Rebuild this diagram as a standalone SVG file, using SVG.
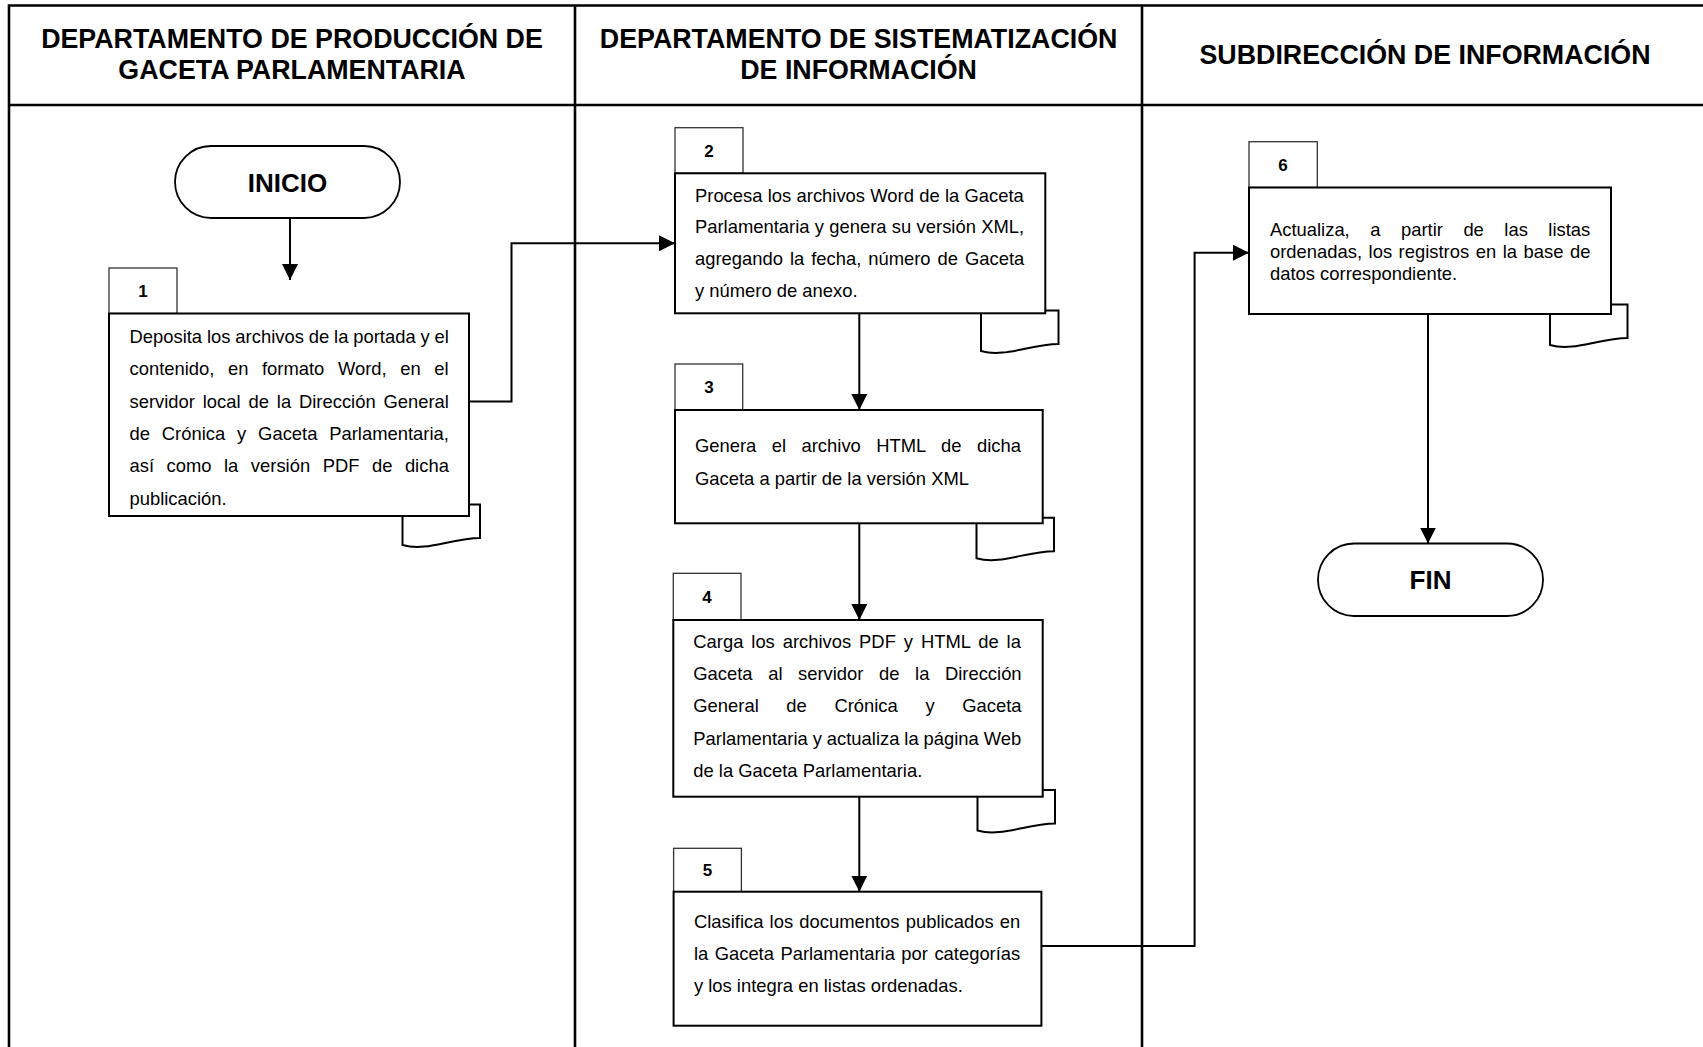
<svg xmlns="http://www.w3.org/2000/svg" width="1703" height="1047" viewBox="0 0 1703 1047">
<defs>
<style>
.frame{fill:none;stroke:#000;stroke-width:2.6}
.hdr{font-family:"Liberation Sans",Arial,sans-serif;font-weight:bold;font-size:26.8px;text-anchor:middle;fill:#000}
.box{fill:#fff;stroke:#000;stroke-width:2}
.lbl{fill:#fff;stroke:#333;stroke-width:1.3}
.num{font-family:"Liberation Sans",Arial,sans-serif;font-weight:bold;font-size:17px;text-anchor:middle;fill:#000}
.txt{font-family:"Liberation Sans",Arial,sans-serif;font-size:18.4px;fill:#000}
.doc{fill:#fff;stroke:#000;stroke-width:2}
.term{fill:#fff;stroke:#000;stroke-width:1.8}
.termtxt{font-family:"Liberation Sans",Arial,sans-serif;font-weight:bold;font-size:26px;text-anchor:middle;fill:#000}
.conn{fill:none;stroke:#000;stroke-width:2;marker-end:url(#arr)}
</style>
<marker id="arr" markerUnits="userSpaceOnUse" viewBox="0 0 17 17" markerWidth="17" markerHeight="17" refX="16" refY="8.5" orient="auto"><path d="M0,0.5 L16,8.5 L0,16.5 z" fill="#000"/></marker>
<path id="docshape" d="M0,0 H77.5 V33.5 C49.5,33.5 24,47.5 0,40.5 Z"/>
</defs>
<rect width="1703" height="1047" fill="#fff"/>
<g id="frame">
<path class="frame" d="M9,1047 V5.5 H1703 M9,105 H1703 M575,5.5 V1047 M1142,5.5 V1047"/>
<text class="hdr" x="292" y="48">DEPARTAMENTO DE PRODUCCIÓN DE</text>
<text class="hdr" x="292" y="79">GACETA PARLAMENTARIA</text>
<text class="hdr" x="858.6" y="48">DEPARTAMENTO DE SISTEMATIZACIÓN</text>
<text class="hdr" x="858.6" y="79">DE INFORMACIÓN</text>
<text class="hdr" x="1425" y="63.5">SUBDIRECCIÓN DE INFORMACIÓN</text>
</g>
<g id="inicio">
<rect class="term" x="175" y="146" width="225" height="72" rx="36"/>
<text class="termtxt" x="287.5" y="191.5">INICIO</text>
</g>
<g id="step1">
<use href="#docshape" class="doc" x="402.5" y="504.5"/>
<rect class="lbl" x="109" y="268" width="68" height="45.5"/>
<rect class="box" x="109" y="313.5" width="360" height="202.5"/>
<text class="num" x="143" y="297">1</text>
<text class="txt" x="129.5" y="343" word-spacing="-0.23">Deposita los archivos de la portada y el</text>
<text class="txt" x="129.5" y="375" word-spacing="8.46">contenido, en formato Word, en el</text>
<text class="txt" x="129.5" y="407.7" word-spacing="2.76">servidor local de la Dirección General</text>
<text class="txt" x="129.5" y="439.7" word-spacing="6.75">de Crónica y Gaceta Parlamentaria,</text>
<text class="txt" x="129.5" y="472.2" word-spacing="7.4">así como la versión PDF de dicha</text>
<text class="txt" x="129.5" y="504.7">publicación.</text>
</g>
<g id="step2">
<use href="#docshape" class="doc" x="981" y="310.5"/>
<rect class="lbl" x="675" y="127.7" width="68" height="45.6"/>
<rect class="box" x="675" y="173.3" width="370.3" height="140"/>
<text class="num" x="709" y="157">2</text>
<text class="txt" x="695" y="201.7" word-spacing="0.17">Procesa los archivos Word de la Gaceta</text>
<text class="txt" x="695" y="233.4" word-spacing="0.2">Parlamentaria y genera su versión XML,</text>
<text class="txt" x="695" y="265.2" word-spacing="1.84">agregando la fecha, número de Gaceta</text>
<text class="txt" x="695" y="297">y número de anexo.</text>
</g>
<g id="step3">
<use href="#docshape" class="doc" x="976.5" y="517.7"/>
<rect class="lbl" x="675" y="364" width="67.7" height="46"/>
<rect class="box" x="675" y="410" width="367.7" height="113.3"/>
<text class="num" x="709" y="393">3</text>
<text class="txt" x="695" y="452" word-spacing="10.32">Genera el archivo HTML de dicha</text>
<text class="txt" x="695" y="484.5">Gaceta a partir de la versión XML</text>
</g>
<g id="step4">
<use href="#docshape" class="doc" x="977.5" y="790"/>
<rect class="lbl" x="673.3" y="573.3" width="67.7" height="46.7"/>
<rect class="box" x="673.3" y="620" width="369.4" height="176.7"/>
<text class="num" x="707" y="602.5">4</text>
<text class="txt" x="693.3" y="648" word-spacing="2.8">Carga los archivos PDF y HTML de la</text>
<text class="txt" x="693.3" y="680" word-spacing="10.46">Gaceta al servidor de la Dirección</text>
<text class="txt" x="693.3" y="712.2" word-spacing="22.5">General de Crónica y Gaceta</text>
<text class="txt" x="693.3" y="744.6" word-spacing="-0.18">Parlamentaria y actualiza la página Web</text>
<text class="txt" x="693.3" y="777">de la Gaceta Parlamentaria.</text>
</g>
<g id="step5">
<rect class="lbl" x="673.6" y="848.3" width="67.8" height="43.4"/>
<rect class="box" x="673.6" y="891.7" width="367.8" height="134"/>
<text class="num" x="707.5" y="876">5</text>
<text class="txt" x="693.9" y="927.5" word-spacing="1.1">Clasifica los documentos publicados en</text>
<text class="txt" x="693.9" y="960" word-spacing="1.35">la Gaceta Parlamentaria por categorías</text>
<text class="txt" x="693.9" y="992">y los integra en listas ordenadas.</text>
</g>
<g id="step6">
<use href="#docshape" class="doc" x="1550" y="304.5"/>
<rect class="lbl" x="1249" y="141.7" width="68.3" height="45.8"/>
<rect class="box" x="1249" y="187.5" width="362" height="126.5"/>
<text class="num" x="1283" y="170.5">6</text>
<text class="txt" x="1270" y="236" word-spacing="15.4">Actualiza, a partir de las listas</text>
<text class="txt" x="1270" y="257.5" word-spacing="1.43">ordenadas, los registros en la base de</text>
<text class="txt" x="1270" y="279.5">datos correspondiente.</text>
</g>
<g id="fin">
<rect class="term" x="1318" y="543.5" width="225" height="72.5" rx="36"/>
<text class="termtxt" x="1430.5" y="589">FIN</text>
</g>
<g id="connectors">
<path class="conn" d="M290,218 V280"/>
<path class="conn" d="M469,401.5 H511.5 V243.3 H675"/>
<path class="conn" d="M859.3,313.3 V410"/>
<path class="conn" d="M859.3,523.3 V620"/>
<path class="conn" d="M859.3,796.7 V891.7"/>
<path class="conn" d="M1041.4,946 H1194.6 V252.7 H1249"/>
<path class="conn" d="M1428,314 V543.5"/>
</g>
</svg>
